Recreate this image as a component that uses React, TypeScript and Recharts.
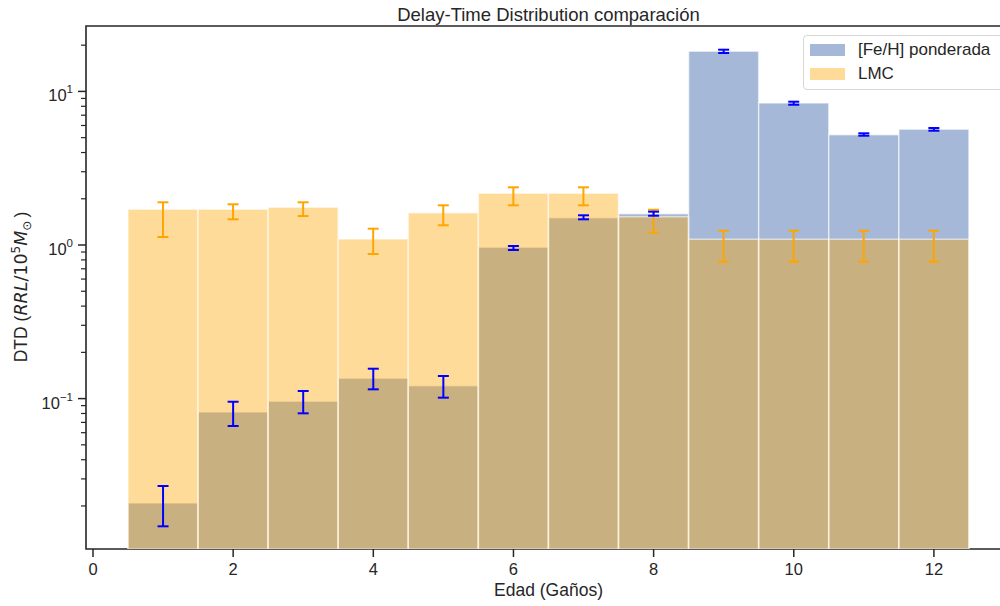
import React from 'react';
import { BarChart, Bar, XAxis, YAxis, ErrorBar, ReferenceArea } from 'recharts';

// Edad de cada bin (Gaños)
const ages = [1, 2, 3, 4, 5, 6, 7, 8, 9, 10, 11, 12];

// DTD ponderada por [Fe/H] y límites de su barra de error
const fehValues = [0.0209, 0.0818, 0.096, 0.1356, 0.1213, 0.966, 1.506, 1.599, 18.24, 8.405, 5.225, 5.667];
const fehLow = [0.01474, 0.0663, 0.0802, 0.1149, 0.1014, 0.928, 1.47, 1.551, 17.78, 8.19, 5.147, 5.548];
const fehHigh = [0.02698, 0.0954, 0.1121, 0.1565, 0.1403, 0.985, 1.561, 1.648, 18.69, 8.57, 5.336, 5.778];

// DTD de la LMC y límites de su barra de error
const lmcValues = [1.708, 1.708, 1.76, 1.094, 1.623, 2.171, 2.171, 1.529, 1.089, 1.089, 1.089, 1.089];
const lmcLow = [1.127, 1.47, 1.544, 0.874, 1.344, 1.813, 1.813, 1.203, 0.779, 0.779, 0.779, 0.779];
const lmcHigh = [1.897, 1.841, 1.897, 1.277, 1.813, 2.375, 2.375, 1.697, 1.239, 1.239, 1.239, 1.239];

const xTicks = [0, 2, 4, 6, 8, 10, 12];
const yTicks = [
  0.02, 0.03, 0.04, 0.05, 0.06, 0.07, 0.08, 0.09,
  0.1, 0.2, 0.3, 0.4, 0.5, 0.6, 0.7, 0.8, 0.9,
  1, 2, 3, 4, 5, 6, 7, 8, 9,
  10, 20,
];
const xDomain: [number, number] = [-0.1, 13.1];
const yDomain: [number, number] = [0.01049, 26.66];

const data = ages.map((age, i) => ({
  age,
  feh: fehValues[i],
  lmc: lmcValues[i],
  fehErr: [fehValues[i] - fehLow[i], fehHigh[i] - fehValues[i]],
  lmcErr: [lmcValues[i] - lmcLow[i], lmcHigh[i] - lmcValues[i]],
}));

const INK = '#262626';
const FONT = '"Liberation Sans", Arial, Helvetica, sans-serif';
const BLUE = '#4c72b0';
const ORANGE = '#ffa500';

const XTick = ({ x, y, payload }: any) => (
  <g>
    <line x1={x} x2={x} y1={y} y2={y + 8} stroke={INK} strokeWidth={1.5} />
    <text x={x} y={y + 26} textAnchor="middle" fontSize={16.5} fill={INK} fontFamily={FONT}>
      {payload.value}
    </text>
  </g>
);

const YTick = ({ x, y, payload }: any) => {
  const exp = Math.log10(payload.value);
  const major = Math.abs(exp - Math.round(exp)) < 1e-6;
  if (!major) {
    return <line x1={x - 5} x2={x} y1={y} y2={y} stroke={INK} strokeWidth={1.2} />;
  }
  const e = Math.round(exp);
  return (
    <g>
      <line x1={x - 8} x2={x} y1={y} y2={y} stroke={INK} strokeWidth={1.5} />
      <text x={x - 13} y={y + 10} textAnchor="end" fontSize={16.5} fill={INK} fontFamily={FONT}>
        10
        <tspan dy={-8} fontSize={11.5}>{e < 0 ? '\u2212' + Math.abs(e) : String(e)}</tspan>
      </text>
    </g>
  );
};

const XLabel = ({ viewBox }: any) => (
  <text
    x={viewBox.x + viewBox.width / 2}
    y={596}
    textAnchor="middle"
    fontSize={17.5}
    fill={INK}
    fontFamily={FONT}
  >
    Edad (Gaños)
  </text>
);

const YLabel = () => (
  <text
    x={27}
    y={287}
    transform="rotate(-90, 27, 287)"
    textAnchor="middle"
    fontSize={17.5}
    fill={INK}
    fontFamily={FONT}
  >
    DTD (
    <tspan fontStyle="italic" fontFamily='"DejaVu Sans", sans-serif'>RRL</tspan>
    <tspan fontFamily='"DejaVu Sans", sans-serif'>/10</tspan>
    <tspan dy={-7} fontSize={12} fontFamily='"DejaVu Sans", sans-serif'>5</tspan>
    <tspan dy={7} fontStyle="italic" fontFamily='"DejaVu Sans", sans-serif'>M</tspan>
    <tspan dy={4} fontSize={12} fontFamily='"DejaVu Sans", sans-serif'>{'\u2299'}</tspan>
    <tspan dy={-4} dx={3}>)</tspan>
  </text>
);

const LegendBox = () => (
  <div
    style={{
      position: 'absolute',
      left: 803,
      top: 35,
      width: 205,
      height: 53,
      border: '1.5px solid #d6d6d6',
      borderRadius: 4,
      background: 'rgba(255,255,255,0.85)',
      fontFamily: FONT,
      fontSize: 17,
      color: INK,
    }}
  >
    {[
      { name: '[Fe/H] ponderada', color: BLUE, opacity: 0.5, top: 7 },
      { name: 'LMC', color: ORANGE, opacity: 0.4, top: 31 },
    ].map((item) => (
      <div key={item.name} style={{ position: 'absolute', left: 6, top: item.top, height: 13, display: 'flex', alignItems: 'center' }}>
        <div style={{ width: 35, height: 12, background: item.color, opacity: item.opacity }} />
        <span style={{ marginLeft: 13, lineHeight: '13px' }}>{item.name}</span>
      </div>
    ))}
  </div>
);

export default function App() {
  return (
    <div style={{ position: 'absolute', left: 0, top: 0, width: 1000, height: 606, overflow: 'hidden', background: '#fff' }}>
      <BarChart
        width={1012}
        height={606}
        data={data}
        margin={{ top: 26, right: 1, bottom: 0, left: 0 }}
        barCategoryGap={0}
        barGap="-100%"
      >
        <text x={548.5} y={21} textAnchor="middle" fontSize={18.5} fill={INK} fontFamily={FONT}>
          Delay-Time Distribution comparación
        </text>
        <XAxis
          dataKey="age"
          type="number"
          domain={xDomain}
          allowDataOverflow
          ticks={xTicks}
          interval={0}
          tickSize={0}
          tickMargin={0}
          axisLine={false}
          tickLine={false}
          tick={<XTick />}
          height={57}
          label={<XLabel />}
        />
        <YAxis
          type="number"
          scale="log"
          domain={yDomain}
          allowDataOverflow
          ticks={yTicks}
          interval={0}
          tickSize={0}
          tickMargin={0}
          axisLine={false}
          tickLine={false}
          tick={<YTick />}
          width={86}
          label={<YLabel />}
        />
        <Bar
          dataKey="feh"
          fill={BLUE}
          fillOpacity={0.5}
          stroke="#ffffff"
          strokeOpacity={0.55}
          strokeWidth={1.5}
          isAnimationActive={false}
        />
        <Bar
          dataKey="lmc"
          fill={ORANGE}
          fillOpacity={0.4}
          stroke="#ffffff"
          strokeOpacity={0.55}
          strokeWidth={1.5}
          isAnimationActive={false}
        />
        <Bar dataKey="lmc" fill="none" stroke="none" isAnimationActive={false}>
          <ErrorBar dataKey="lmcErr" direction="y" width={5.5} stroke={ORANGE} strokeWidth={2} />
        </Bar>
        <Bar dataKey="feh" fill="none" stroke="none" isAnimationActive={false}>
          <ErrorBar dataKey="fehErr" direction="y" width={5.5} stroke="#0000ff" strokeWidth={2} />
        </Bar>
        <ReferenceArea
          x1={xDomain[0]}
          x2={xDomain[1]}
          y1={yDomain[0]}
          y2={yDomain[1]}
          fill="none"
          stroke={INK}
          strokeWidth={1.6}
          ifOverflow="visible"
        />
      </BarChart>
      <LegendBox />
    </div>
  );
}
